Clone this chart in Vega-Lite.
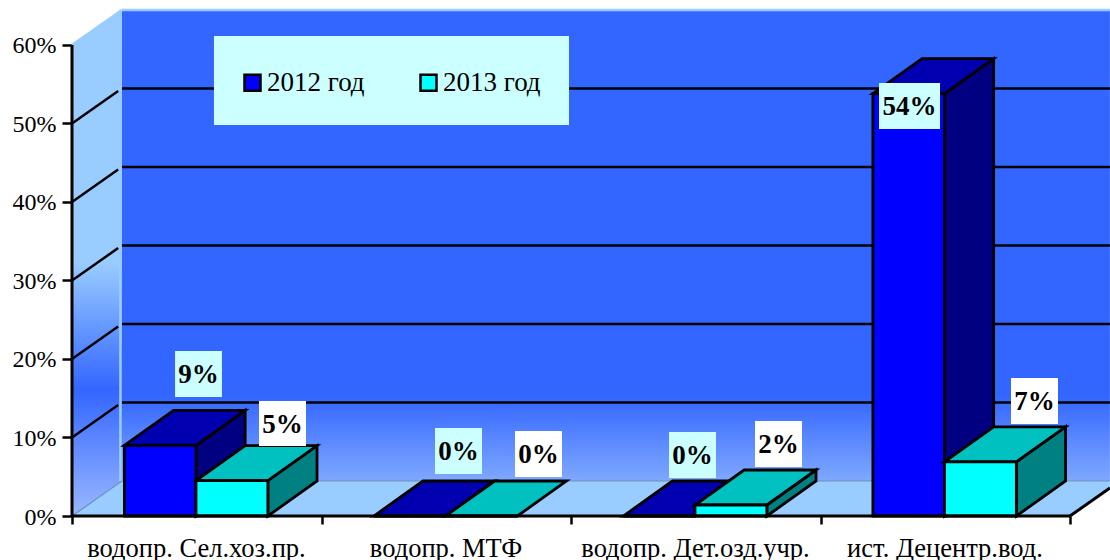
{"$schema":"https://vega.github.io/schema/vega-lite/v6.json","width":1038,"height":516,"autosize":{"type":"none"},"padding":{"left":72,"top":0,"right":0,"bottom":44},"background":"white","config":{"view":{"stroke":null},"font":"Liberation Serif"},
"datasets":{
"walls":[
{"id":"side","x":0,"y":0,"y2":0.6},{"id":"side","x":0.2,"y":0.0446,"y2":0.6446},
{"id":"back","x":0.2,"y":0.0446,"y2":0.6446},{"id":"back","x":4.16,"y":0.0446,"y2":0.6446},
{"id":"floor","x":0,"y":0,"y2":0},{"id":"floor","x":0.2,"y":0,"y2":0.0446},{"id":"floor","x":4,"y":0,"y2":0.0446},{"id":"floor","x":4.16,"y":0.0357,"y2":0.0446}],
"grid":[
{"id":"s10","x":0,"y":0.1},{"id":"s10","x":0.185,"y":0.1413},{"id":"b10","x":0.2,"y":0.1446},{"id":"b10","x":4.16,"y":0.1446},
{"id":"s20","x":0,"y":0.2},{"id":"s20","x":0.185,"y":0.2413},{"id":"b20","x":0.2,"y":0.2446},{"id":"b20","x":4.16,"y":0.2446},
{"id":"s30","x":0,"y":0.3},{"id":"s30","x":0.185,"y":0.3413},{"id":"b30","x":0.2,"y":0.3446},{"id":"b30","x":4.16,"y":0.3446},
{"id":"s40","x":0,"y":0.4},{"id":"s40","x":0.185,"y":0.4413},{"id":"b40","x":0.2,"y":0.4446},{"id":"b40","x":4.16,"y":0.4446},
{"id":"s50","x":0,"y":0.5},{"id":"s50","x":0.185,"y":0.5413},{"id":"b50","x":0.2,"y":0.5446},{"id":"b50","x":4.16,"y":0.5446}],
"edges":[
{"id":"strip","x":0.194,"y":0.0446},{"id":"strip","x":0.194,"y":0.6446},
{"id":"topleft","x":0,"y":0.6},{"id":"topleft","x":0.2,"y":0.6446},
{"id":"topback","x":0.2,"y":0.6446},{"id":"topback","x":4.16,"y":0.6446}],
"floorline":[{"id":"fl","x":0.2,"y":0.0446},{"id":"fl","x":4.16,"y":0.0446},{"id":"fd","x":0,"y":0},{"id":"fd","x":0.2,"y":0.0446}],
"frame":[
{"id":"yaxis","x":0,"y":0},{"id":"yaxis","x":0,"y":0.6},
{"id":"xaxis","x":0,"y":0},{"id":"xaxis","x":4,"y":0},
{"id":"diag","x":4,"y":0},{"id":"diag","x":4.16,"y":0.0357}],
"bars":[
{"series":"2012 год","x":0.21,"x2":0.497,"y":0.09},{"series":"2012 год","x":1.21,"x2":1.497,"y":0},{"series":"2012 год","x":2.21,"x2":2.497,"y":0},{"series":"2012 год","x":3.21,"x2":3.497,"y":0.538},
{"series":"2013 год","x":0.497,"x2":0.785,"y":0.045},{"series":"2013 год","x":1.497,"x2":1.785,"y":0},{"series":"2013 год","x":2.497,"x2":2.785,"y":0.014},{"series":"2013 год","x":3.497,"x2":3.785,"y":0.069}],
"tops":[
{"bar":"a0","series":"2012 год","x":0.21,"y":0.09,"y2":0.09},{"bar":"a0","series":"2012 год","x":0.407,"y":0.09,"y2":0.1346},{"bar":"a0","series":"2012 год","x":0.497,"y":0.09,"y2":0.1346},{"bar":"a0","series":"2012 год","x":0.694,"y":0.1346,"y2":0.1346},
{"bar":"a1","series":"2012 год","x":1.21,"y":0,"y2":0},{"bar":"a1","series":"2012 год","x":1.407,"y":0,"y2":0.0446},{"bar":"a1","series":"2012 год","x":1.497,"y":0,"y2":0.0446},{"bar":"a1","series":"2012 год","x":1.694,"y":0.0446,"y2":0.0446},
{"bar":"a2","series":"2012 год","x":2.21,"y":0,"y2":0},{"bar":"a2","series":"2012 год","x":2.407,"y":0,"y2":0.0446},{"bar":"a2","series":"2012 год","x":2.497,"y":0,"y2":0.0446},{"bar":"a2","series":"2012 год","x":2.694,"y":0.0446,"y2":0.0446},
{"bar":"a3","series":"2012 год","x":3.21,"y":0.538,"y2":0.538},{"bar":"a3","series":"2012 год","x":3.407,"y":0.538,"y2":0.5826},{"bar":"a3","series":"2012 год","x":3.497,"y":0.538,"y2":0.5826},{"bar":"a3","series":"2012 год","x":3.694,"y":0.5826,"y2":0.5826},
{"bar":"b0","series":"2013 год","x":0.497,"y":0.045,"y2":0.045},{"bar":"b0","series":"2013 год","x":0.694,"y":0.045,"y2":0.0896},{"bar":"b0","series":"2013 год","x":0.785,"y":0.045,"y2":0.0896},{"bar":"b0","series":"2013 год","x":0.982,"y":0.0896,"y2":0.0896},
{"bar":"b1","series":"2013 год","x":1.497,"y":0,"y2":0},{"bar":"b1","series":"2013 год","x":1.694,"y":0,"y2":0.0446},{"bar":"b1","series":"2013 год","x":1.785,"y":0,"y2":0.0446},{"bar":"b1","series":"2013 год","x":1.982,"y":0.0446,"y2":0.0446},
{"bar":"b2","series":"2013 год","x":2.497,"y":0.014,"y2":0.014},{"bar":"b2","series":"2013 год","x":2.694,"y":0.014,"y2":0.0586},{"bar":"b2","series":"2013 год","x":2.785,"y":0.014,"y2":0.0586},{"bar":"b2","series":"2013 год","x":2.982,"y":0.0586,"y2":0.0586},
{"bar":"b3","series":"2013 год","x":3.497,"y":0.069,"y2":0.069},{"bar":"b3","series":"2013 год","x":3.694,"y":0.069,"y2":0.1136},{"bar":"b3","series":"2013 год","x":3.785,"y":0.069,"y2":0.1136},{"bar":"b3","series":"2013 год","x":3.982,"y":0.1136,"y2":0.1136}],
"sides":[
{"bar":"a0","series":"2012 год","x":0.497,"y":0,"y2":0.09},{"bar":"a0","series":"2012 год","x":0.694,"y":0.0446,"y2":0.1346},
{"bar":"a3","series":"2012 год","x":3.497,"y":0,"y2":0.538},{"bar":"a3","series":"2012 год","x":3.694,"y":0.0446,"y2":0.5826},
{"bar":"b0","series":"2013 год","x":0.785,"y":0,"y2":0.045},{"bar":"b0","series":"2013 год","x":0.982,"y":0.0446,"y2":0.0896},
{"bar":"b2","series":"2013 год","x":2.785,"y":0,"y2":0.014},{"bar":"b2","series":"2013 год","x":2.982,"y":0.0446,"y2":0.0586},
{"bar":"b3","series":"2013 год","x":3.785,"y":0,"y2":0.069},{"bar":"b3","series":"2013 год","x":3.982,"y":0.0446,"y2":0.1136}],
"labels":[
{"series":"2012 год","text":"9%","x":0.413,"x2":0.601,"y":0.2102,"y2":0.1516,"cx":0.507,"cy":0.181},
{"series":"2013 год","text":"5%","x":0.7495,"x2":0.9379,"y":0.1465,"y2":0.0892,"cx":0.8437,"cy":0.1178},
{"series":"2012 год","text":"0%","x":1.4549,"x2":1.6433,"y":0.1121,"y2":0.0535,"cx":1.549,"cy":0.0828},
{"series":"2013 год","text":"0%","x":1.7756,"x2":1.9639,"y":0.1083,"y2":0.0497,"cx":1.87,"cy":0.079},
{"series":"2012 год","text":"0%","x":2.3928,"x2":2.5812,"y":0.107,"y2":0.0484,"cx":2.487,"cy":0.0777},
{"series":"2013 год","text":"2%","x":2.7375,"x2":2.9259,"y":0.121,"y2":0.0624,"cx":2.8317,"cy":0.0917},
{"series":"2012 год","text":"54%","x":3.2345,"x2":3.479,"y":0.5516,"y2":0.493,"cx":3.3567,"cy":0.5223},
{"series":"2013 год","text":"7%","x":3.7635,"x2":3.9519,"y":0.1758,"y2":0.1172,"cx":3.8577,"cy":0.1465}],
"legendbox":[{"x":0.569,"x2":1.992,"y":0.6115,"y2":0.4981}]
},
"encoding":{
"x":{"field":"x","type":"quantitative","scale":{"domain":[0,4.1603],"nice":false,"zero":false},"axis":{"title":null,"grid":false,"domain":false,"values":[0,1,2,3,4],"labelExpr":"['водопр. Сел.хоз.пр.','водопр. МТФ','водопр. Дет.озд.учр.','ист. Децентр.вод.',''][datum.value]","labelOffset":124,"labelFont":"Liberation Serif","labelFontSize":26.5,"labelLimit":400,"labelColor":"black","labelPadding":11,"labelBound":false,"labelFlush":false,"labelOverlap":false,"tickSize":8,"tickWidth":2.5,"tickColor":"black"}},
"y":{"field":"y","type":"quantitative","stack":null,"scale":{"domain":[0,0.6573],"nice":false,"zero":false},"axis":{"title":null,"grid":false,"domain":false,"values":[0,0.1,0.2,0.3,0.4,0.5,0.6],"format":".0%","labelFont":"Liberation Serif","labelFontSize":24,"labelColor":"black","labelPadding":6,"labelOffset":1,"labelBound":false,"labelFlush":false,"labelOverlap":false,"tickSize":10,"tickWidth":2.5,"tickColor":"black"}}
},
"layer":[
{"data":{"name":"walls"},"transform":[{"filter":"datum.id=='side'"}],"mark":{"type":"area","fill":{"gradient":"linear","x1":0,"y1":0,"x2":0,"y2":1,"stops":[{"offset":0,"color":"#99ccff"},{"offset":0.5,"color":"#99ccff"},{"offset":0.75,"color":"#3366ff"},{"offset":1,"color":"#99b8ff"}]}},"encoding":{"y2":{"field":"y2"}}},
{"data":{"name":"walls"},"transform":[{"filter":"datum.id=='back'"}],"mark":{"type":"area","fill":{"gradient":"linear","x1":0,"y1":0,"x2":0,"y2":1,"stops":[{"offset":0,"color":"#3366ff"},{"offset":0.82,"color":"#3366ff"},{"offset":1,"color":"#7fa8ff"}]}},"encoding":{"y2":{"field":"y2"}}},
{"data":{"name":"walls"},"transform":[{"filter":"datum.id=='floor'"}],"mark":{"type":"area","fill":"#99ccff"},"encoding":{"y2":{"field":"y2"}}},
{"data":{"name":"floorline"},"mark":{"type":"line","stroke":"#6f8fc0","strokeWidth":1.2},"encoding":{"detail":{"field":"id"}}},
{"data":{"name":"grid"},"mark":{"type":"line","stroke":"black","strokeWidth":2.5},"encoding":{"detail":{"field":"id"}}},
{"data":{"name":"edges"},"mark":{"type":"line","stroke":"#99ccff","strokeWidth":2.5},"encoding":{"detail":{"field":"id"}}},
{"data":{"name":"legendbox"},"mark":{"type":"rect","fill":"#ccffff"},"encoding":{"x2":{"field":"x2"},"y2":{"field":"y2"}}},
{"data":{"name":"sides"},"transform":[{"filter":"datum.series=='2012 год'"}],"mark":{"type":"area","fill":"#000080","stroke":"black","strokeWidth":2.8},"encoding":{"y2":{"field":"y2"},"detail":{"field":"bar"}}},
{"data":{"name":"tops"},"transform":[{"filter":"datum.series=='2012 год'"}],"mark":{"type":"area","fill":"#0000b0","stroke":"black","strokeWidth":2.8},"encoding":{"y2":{"field":"y2"},"detail":{"field":"bar"}}},
{"data":{"name":"bars"},"transform":[{"filter":"datum.series=='2012 год'"}],"mark":{"type":"rect","stroke":"black","strokeWidth":2.8},"encoding":{"x2":{"field":"x2"},"y2":{"datum":0},"color":{"field":"series","type":"nominal","scale":{"domain":["2012 год","2013 год"],"range":["#0000ff","#00ffff"]},"legend":{"title":null,"orient":"none","legendX":167,"legendY":69,"direction":"horizontal","columns":2,"symbolType":"square","symbolSize":256,"symbolStrokeColor":"black","symbolStrokeWidth":2.5,"labelFont":"Liberation Serif","labelFontSize":27,"labelColor":"black","labelOffset":1,"columnPadding":50,"padding":0}}}},
{"data":{"name":"sides"},"transform":[{"filter":"datum.series=='2013 год'"}],"mark":{"type":"area","fill":"#008080","stroke":"black","strokeWidth":2.8},"encoding":{"y2":{"field":"y2"},"detail":{"field":"bar"}}},
{"data":{"name":"tops"},"transform":[{"filter":"datum.series=='2013 год'"}],"mark":{"type":"area","fill":"#00c0c0","stroke":"black","strokeWidth":2.8},"encoding":{"y2":{"field":"y2"},"detail":{"field":"bar"}}},
{"data":{"name":"bars"},"transform":[{"filter":"datum.series=='2013 год'"}],"mark":{"type":"rect","stroke":"black","strokeWidth":2.8},"encoding":{"x2":{"field":"x2"},"y2":{"datum":0},"color":{"field":"series","type":"nominal"}}},
{"data":{"name":"frame"},"mark":{"type":"line","stroke":"black","strokeWidth":3},"encoding":{"detail":{"field":"id"}}},
{"data":{"name":"labels"},"mark":{"type":"rect"},"encoding":{"x2":{"field":"x2"},"y2":{"field":"y2"},"fill":{"field":"series","type":"nominal","scale":{"domain":["2012 год","2013 год"],"range":["#ccffff","#ffffff"]},"legend":null}}},
{"data":{"name":"labels"},"mark":{"type":"text","font":"Liberation Serif","fontWeight":"bold","fontSize":27,"fill":"black","baseline":"middle","align":"center","dy":1},"encoding":{"x":{"field":"cx"},"y":{"field":"cy"},"text":{"field":"text"}}}
]}
